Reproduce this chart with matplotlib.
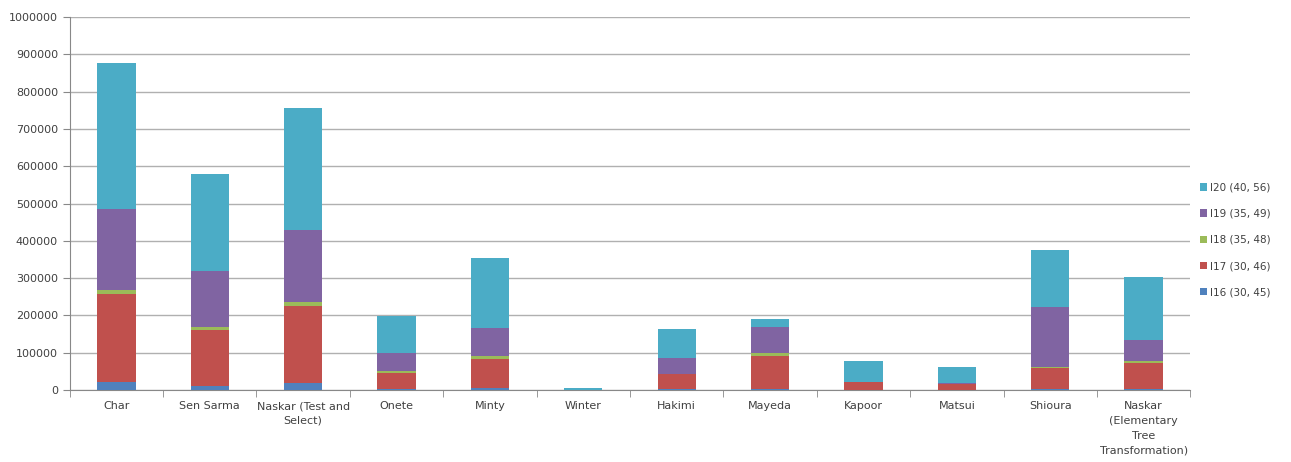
import numpy as np
import matplotlib.pyplot as plt

categories = ["Char", "Sen Sarma", "Naskar (Test and\nSelect)", "Onete", "Minty", "Winter",
              "Hakimi", "Mayeda", "Kapoor", "Matsui", "Shioura",
              "Naskar\n(Elementary\nTree\nTransformation)"]
series_names = ["I16 (30, 45)", "I17 (30, 46)", "I18 (35, 48)", "I19 (35, 49)", "I20 (40, 56)"]

i16 = [20000, 10000, 18000, 3000, 5000, 500, 3000, 3000, 1000, 1000, 3000, 3000]
i17 = [237000, 150000, 207000, 42000, 77000, 500, 39000, 87000, 19000, 14000, 55000, 70000]
i18 = [10000, 10000, 12000, 5000, 8000, 0, 1000, 8000, 0, 0, 4000, 5000]
i19 = [218000, 150000, 193000, 50000, 75000, 0, 42000, 72000, 1000, 3000, 160000, 57000]
i20 = [393000, 258000, 327000, 97000, 190000, 4000, 78000, 20000, 57000, 44000, 153000, 168000]

colors = ["#4F81BD", "#C0504D", "#9BBB59", "#8064A2", "#4BACC6"]

fig = plt.figure(figsize=(12.91, 4.62), dpi=100)
ax = fig.add_axes([0.054, 0.156, 0.868, 0.807])

x = np.arange(len(categories))
bottom = np.zeros(len(categories))
handles = []
for vals, name, c in zip([i16, i17, i18, i19, i20], series_names, colors):
    b = ax.bar(x, vals, 0.41, bottom=bottom, color=c, label=name, zorder=3)
    handles.append(b)
    bottom += np.array(vals)

ax.set_xlim(-0.5, len(categories) - 0.5)
ax.set_ylim(0, 1000000)
yt = np.arange(0, 1000001, 100000)
ax.set_yticks(yt)
ax.set_yticklabels([str(v) for v in yt])
ax.yaxis.grid(True, color="#b0b0b0", linewidth=1, zorder=0)
ax.set_xticks(x)
ax.set_xticklabels(categories, fontsize=8, color="#404040", linespacing=1.6)
ax.tick_params(axis="x", length=0, pad=8)
ax.set_xticks(np.arange(-0.5, len(categories), 1), minor=True)
ax.tick_params(axis="x", which="minor", length=5, color="#888888")
ax.tick_params(axis="y", labelsize=8, labelcolor="#404040", length=5, color="#888888")
for s in ["top", "right"]:
    ax.spines[s].set_visible(False)
ax.spines["left"].set_color("#888888")
ax.spines["bottom"].set_color("#888888")

leg = fig.legend(handles[::-1], series_names[::-1], loc="upper left", bbox_to_anchor=(0.922, 0.625),
                 frameon=False, fontsize=7.5, handlelength=0.7, handleheight=0.7,
                 handletextpad=0.3, labelspacing=1.55, labelcolor="#404040")

fig.savefig("out.png", dpi=100)
